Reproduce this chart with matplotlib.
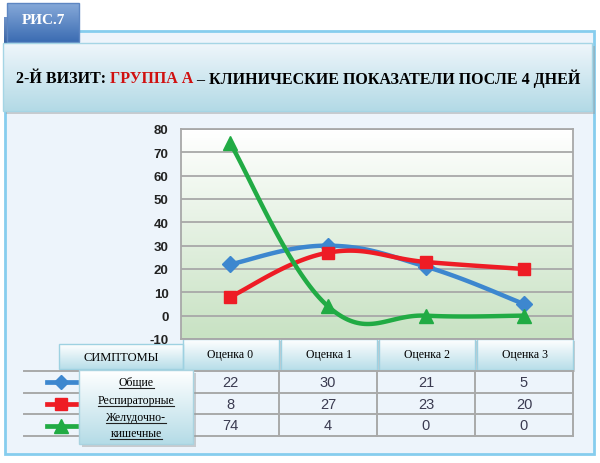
import numpy as np
import matplotlib
matplotlib.use('Agg')
import matplotlib.pyplot as plt
from matplotlib.patches import Rectangle

# data
categories = ['Оценка 0', 'Оценка 1', 'Оценка 2', 'Оценка 3']
series_names = ['Общие', 'Респираторные', 'Желудочно-кишечные']
general = [22, 30, 21, 5]
respiratory = [8, 27, 23, 20]
gastro = [74, 4, 0, 0]
yticks = list(range(-10, 81, 10))

series = [general, respiratory, gastro]
colors = ['#3d87cf', '#ee1c25', '#21ab44']
markers = ['D', 's', '^']
msizes = [8, 8.5, 10]

SERIF = 'Liberation Serif'
SANS = 'Liberation Sans'


def smooth(ys, k=0.2, n=40):
    # excel-like smoothed line (bezier through the points)
    pts = np.array([[i, y] for i, y in enumerate(ys)], dtype=float)
    out = []
    for i in range(len(pts) - 1):
        p0 = pts[i - 1] if i > 0 else pts[i]
        p1, p2 = pts[i], pts[i + 1]
        p3 = pts[i + 2] if i + 2 < len(pts) else pts[i + 1]
        c1 = p1 + (p2 - p0) * k
        c2 = p2 - (p3 - p1) * k
        t = np.linspace(0, 1, n)[:, None]
        b = (1 - t) ** 3 * p1 + 3 * (1 - t) ** 2 * t * c1 + 3 * (1 - t) * t ** 2 * c2 + t ** 3 * p2
        out.append(b if i == 0 else b[1:])
    out = np.vstack(out)
    return out[:, 0], out[:, 1]


def grad(ax, x0, y0, x1, y1, top, bot, z=1, edge=None):
    c0 = np.array(matplotlib.colors.to_rgb(top))
    c1 = np.array(matplotlib.colors.to_rgb(bot))
    t = np.linspace(0, 1, 64)[:, None, None]
    img = c0 * (1 - t) + c1 * t
    ax.imshow(img, extent=(x0, x1, y1, y0), origin='upper', aspect='auto',
              interpolation='bilinear', zorder=z)
    if edge:
        ax.add_patch(Rectangle((x0, y0), x1 - x0, y1 - y0, fill=False,
                               ec=edge, lw=1, zorder=z + 0.1))


def shadow(ax, x0, y0, x1, y1, z=0.9, off=3):
    ax.add_patch(Rectangle((x0 + off, y0 + off), x1 - x0, y1 - y0, fc='#9a9a9a',
                           ec='none', alpha=0.45, zorder=z))


fig = plt.figure(figsize=(6, 4.64), dpi=100)
fig.patch.set_facecolor('white')

bg = fig.add_axes([0, 0, 1, 1])
bg.axis('off')

# outer panel
bg.add_patch(Rectangle((5, 32), 589, 423, fc='#edf4fb', ec='#86cdee', lw=2, zorder=0.5))

# tab "РИС.7"
grad(bg, 4, 18, 12, 44, '#6f93c8', '#3a64a4', z=0.95)
grad(bg, 7, 4, 79, 43, '#86a9d9', '#3b6cb2', z=1, edge='#5d86c2')
bg.text(43, 21, 'РИС.7', color='white', fontsize=11, fontweight='bold',
        family=SERIF, ha='center', va='center', zorder=3)

# title bar
shadow(bg, 3, 44, 592, 112)
grad(bg, 3, 44, 592, 112, '#eff6fb', '#b3dae6', z=1, edge='#a5d5e5')

# table header
col_x0, col_w = 181, 392 / len(categories)
for i, cat in enumerate(categories):
    x0 = col_x0 + i * col_w + 1.5
    x1 = col_x0 + (i + 1) * col_w - 0.5
    shadow(bg, x0, 340, x1, 371, off=2)
    grad(bg, x0, 340, x1, 371, '#ffffff', '#b8dee9', z=1, edge='#9ed1e1')
    bg.text((x0 + x1) / 2, 355, cat, fontsize=8.5, family=SERIF,
            ha='center', va='center', zorder=3)

shadow(bg, 59, 345, 183, 370, off=2)
grad(bg, 59, 345, 183, 370, '#ffffff', '#b8dee9', z=1, edge='#9ed1e1')
bg.text(121, 358, 'СИМПТОМЫ', fontsize=9, family=SERIF, ha='center', va='center', zorder=3)

# table rows
row_y = [372, 393.5, 415, 437]
for y in row_y:
    bg.plot([24, 573], [y, y], color='#a9a9a9', lw=1.4, zorder=1.5)
for i in range(len(categories)):
    x = col_x0 + (i + 1) * col_w
    bg.plot([x, x], [row_y[0], row_y[-1]], color='#a9a9a9', lw=1.4, zorder=1.5)

for r, vals in enumerate(series):
    yc = (row_y[r] + row_y[r + 1]) / 2 + 0.5
    for c, v in enumerate(vals):
        bg.text(col_x0 + (c + 0.5) * col_w, yc, str(v), fontsize=10.5, family=SANS,
                color='#3a3a50', ha='center', va='center', zorder=3)
    bg.plot([47, 76], [yc, yc], color=colors[r], lw=3.4, zorder=2)
    bg.plot([61], [yc], marker=markers[r], ms=msizes[r] - 0.5, color=colors[r], zorder=2.1)

# legend box
shadow(bg, 79, 371, 193, 445, z=2.4, off=3)
grad(bg, 79, 371, 193, 445, '#ffffff', '#b5dce7', z=2.5, edge='#a9d3e0')
legend_lines = []
for name in series_names:
    legend_lines += name.replace('-', '-\n').split('\n')
leg_y = [383, 401, 418, 434]
leg_texts = []
for txt, y in zip(legend_lines, leg_y):
    leg_texts.append(bg.text(136, y, txt, fontsize=8.5, family=SERIF,
                             ha='center', va='center', zorder=3))

bg.set_xlim(0, 600)
bg.set_ylim(464, 0)

# plot area
ax = fig.add_axes([181 / 600, (464 - 340) / 464, 392 / 600, 210 / 464], zorder=1)
c0 = np.array(matplotlib.colors.to_rgb('#ffffff'))
c1 = np.array(matplotlib.colors.to_rgb('#c8e2c3'))
t = np.linspace(0, 1, 64)[:, None, None]
ax.imshow(c0 * (1 - t) + c1 * t, extent=(-0.5, len(categories) - 0.5, yticks[0], yticks[-1]),
          origin='upper', aspect='auto', interpolation='bilinear', zorder=-1)
for vals, col, m, ms in zip(series, colors, markers, msizes):
    xs, ys = smooth(vals)
    ax.plot(xs, ys, color=col, lw=3.2, solid_capstyle='round', zorder=3)
    ax.plot(range(len(vals)), vals, ls='none', marker=m, ms=ms, color=col, zorder=4)

ax.set_xlim(-0.5, len(categories) - 0.5)
ax.set_ylim(yticks[0], yticks[-1])
ax.set_yticks(yticks)
ax.set_yticklabels([str(v) for v in yticks], fontsize=9.5, fontweight='bold',
                   family=SANS, color='#222222')
ax.set_xticks([])
ax.tick_params(axis='y', length=0, pad=9)
ax.yaxis.grid(True, color='#a8a8a8', lw=1.3)
ax.set_axisbelow(True)
for s in ax.spines.values():
    s.set_color('#a8a8a8')
    s.set_linewidth(1.3)

# title
fig.canvas.draw()
r = fig.canvas.get_renderer()
parts = [('2-Й ВИЗИТ: ', 'black'), ('ГРУППА А', '#d01010'),
         (' – КЛИНИЧЕСКИЕ ПОКАЗАТЕЛИ ПОСЛЕ 4 ДНЕЙ', 'black')]
tt = [bg.text(0, 79, p, color=c, fontsize=11.5, fontweight='bold', family=SERIF,
              ha='left', va='center', zorder=3) for p, c in parts]
widths = []
for t_ in tt:
    bb = t_.get_window_extent(r)
    widths.append(bb.width * 600 / fig.bbox.width)
x = 298 - sum(widths) / 2
for t_, w in zip(tt, widths):
    t_.set_x(x)
    x += w

# underline legend labels
inv = bg.transData.inverted()
for t_ in leg_texts:
    bb = t_.get_window_extent(r)
    (xa, ya), (xb, yb) = inv.transform([[bb.x0, bb.y0], [bb.x1, bb.y1]])
    bg.plot([xa, xb], [ya - 0.5, ya - 0.5], color='#222222', lw=0.8, zorder=3)

bg.set_xlim(0, 600)
bg.set_ylim(464, 0)

fig.savefig('out.png', dpi=100)
